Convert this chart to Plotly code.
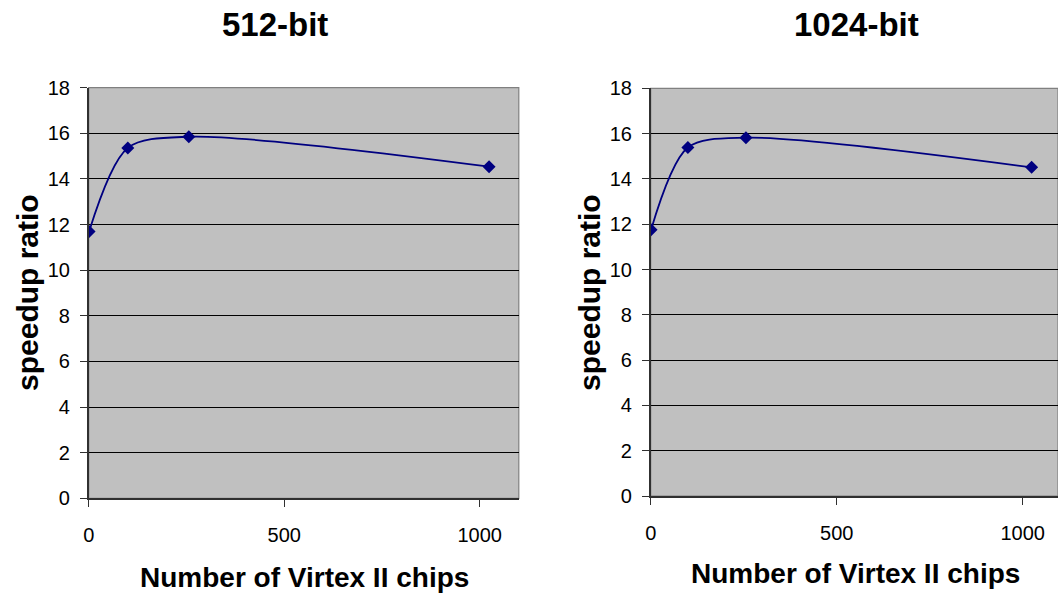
import plotly.graph_objects as go
from plotly.subplots import make_subplots

# Number of Virtex II chips and measured speedup for each key size
chips = [1, 100, 256, 1024]
speedup_512 = [11.70, 15.36, 15.85, 14.54]
speedup_1024 = [11.76, 15.39, 15.82, 14.51]

panel_titles = ["512-bit", "1024-bit"]
x_title = "Number of Virtex II chips"
y_title = "speedup ratio"
x_ticks = [0, 500, 1000]
y_ticks = [0, 2, 4, 6, 8, 10, 12, 14, 16, 18]

FONT = "Liberation Sans, Arial, sans-serif"
NAVY = "#000080"
W, H = 1058, 596

fig = make_subplots(rows=1, cols=2)

for col, ys in ((1, speedup_512), (2, speedup_1024)):
    fig.add_trace(
        go.Scatter(
            x=chips, y=ys, mode="lines+markers",
            line=dict(color=NAVY, width=1.8, shape="spline", smoothing=0.85),
            marker=dict(symbol="diamond", size=10, color=NAVY),
            showlegend=False, hoverinfo="x+y",
        ),
        row=1, col=col,
    )

# Plot areas in pixels: (left, right, top, bottom)
areas = [(88.7, 518.8, 87.7, 498.3), (650.7, 1058.0, 88.3, 496.0)]
x_ranges = [[0, 1100], [0, (W - 650.7) / (186.0 / 500)]]

axis_common = dict(
    showline=True, linecolor="#303030", linewidth=1.5,
    ticks="outside", tickcolor="#303030", ticklen=7, tickwidth=1,
    tickfont=dict(family=FONT, size=20, color="black"),
    zeroline=False, automargin=False,
)

for i, (l, r, t, b) in enumerate(areas):
    n = "" if i == 0 else str(i + 1)
    fig.layout["xaxis" + n].update(
        domain=[l / W, r / W], range=x_ranges[i], tickvals=x_ticks,
        showgrid=False, ticklabelstandoff=11, **axis_common,
    )
    fig.layout["yaxis" + n].update(
        domain=[1 - b / H, 1 - t / H], range=[0, 18], tickvals=y_ticks,
        showgrid=True, gridcolor="black", gridwidth=1,
        ticklabelstandoff=6, **axis_common,
    )
    # light frame on the top and right of each plot area
    fig.add_shape(type="rect", xref="x" + n + " domain", yref="y" + n + " domain",
                  x0=0, x1=1, y0=0, y1=1, line=dict(color="#808080", width=1.2),
                  layer="below")

annotations = [
    dict(text="<b>512-bit</b>", x=275 / W, y=1 - 25 / H, font_size=33),
    dict(text="<b>1024-bit</b>", x=856 / W, y=1 - 25 / H, font_size=33),
    dict(text="<b>" + x_title + "</b>", x=304 / W, y=1 - 577 / H, font_size=28),
    dict(text="<b>" + x_title + "</b>", x=855 / W, y=1 - 573 / H, font_size=28),
    dict(text="<b>" + y_title + "</b>", x=27 / W, y=1 - 293 / H, font_size=30, textangle=-90),
    dict(text="<b>" + y_title + "</b>", x=589 / W, y=1 - 293 / H, font_size=30, textangle=-90),
]
for a in annotations:
    fig.add_annotation(
        xref="paper", yref="paper", x=a["x"], y=a["y"], text=a["text"],
        showarrow=False, xanchor="center", yanchor="middle",
        textangle=a.get("textangle", 0),
        font=dict(family=FONT, size=a["font_size"], color="black"),
    )

fig.update_layout(
    width=W, height=H, margin=dict(l=0, r=0, t=0, b=0),
    paper_bgcolor="white", plot_bgcolor="#C0C0C0",
    font=dict(family=FONT, color="black"),
)

fig.write_html("out.html")
